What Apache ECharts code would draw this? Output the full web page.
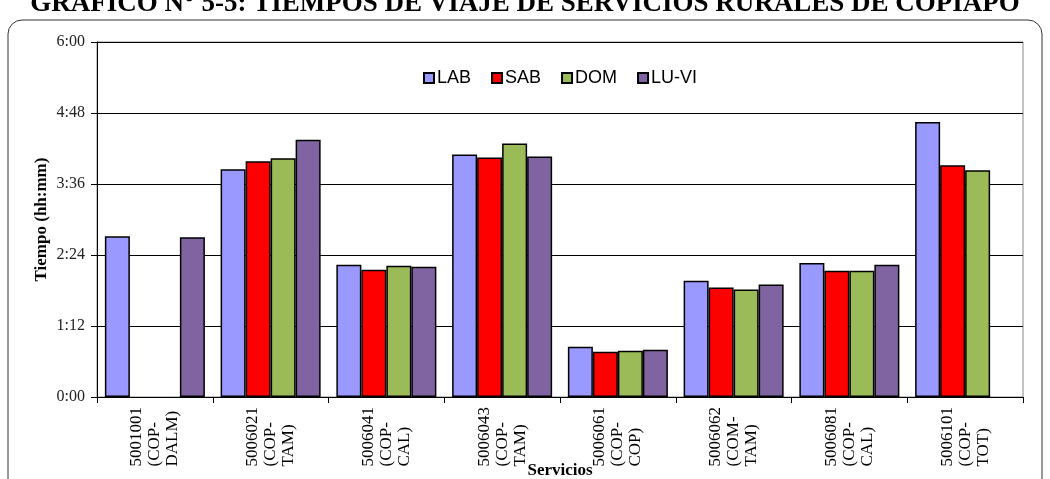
<!DOCTYPE html>
<html>
<head>
<meta charset="utf-8">
<script src="https://cdn.jsdelivr.net/npm/echarts@6/dist/echarts.min.js"></script>
<style>
  html, body { margin: 0; padding: 0; background: #fff; }
  #main { width: 1050px; height: 479px; }
</style>
</head>
<body>
<div id="main"></div>
<script>
// services (category axis), three lines each
var servicios = [
    '5001001\n(COP-\nDALM)',
    '5006021\n(COP-\nTAM)',
    '5006041\n(COP-\nCAL)',
    '5006043\n(COP-\nTAM)',
    '5006061\n(COP-\nCOP)',
    '5006062\n(COM-\nTAM)',
    '5006081\n(COP-\nCAL)',
    '5006101\n(COP-\nTOT)'
];
// travel times in minutes
var lab  = [163, 231, 134, 246, 51, 118, 136, 279];
var sab  = [null, 239, 129, 243, 46, 111, 128, 235];
var dom  = [null, 242, 133, 257, 47, 109, 128, 230];
var luvi = [162, 261, 132, 244, 48, 114, 134, null];

var seriesNames = ['LAB', 'SAB', 'DOM', 'LU-VI'];
var seriesColors = ['#9999FF', '#FF0000', '#9BBB59', '#8064A2'];
var seriesData = [lab, sab, dom, luvi];

function hhmm(v) {
    var h = Math.floor(v / 60);
    var m = v % 60;
    return h + ':' + (m < 10 ? '0' + m : m);
}

var chart = echarts.init(document.getElementById('main'));
var option = {
    animation: false,
    title: {
        text: 'GRAFICO N° 5-5: TIEMPOS DE VIAJE DE SERVICIOS RURALES DE COPIAPO',
        left: 'center',
        top: -14,
        textStyle: {
            fontFamily: 'Liberation Serif',
            fontWeight: 'bold',
            fontSize: 27,
            color: '#000'
        }
    },
    graphic: [{
        type: 'rect',
        shape: { x: 8, y: 20, width: 1034, height: 480, r: 14 },
        style: { fill: 'none', stroke: '#333', lineWidth: 1 },
        z: -1
    }],
    legend: {
        data: seriesNames,
        top: 64,
        left: 418,
        icon: 'rect',
        itemWidth: 10,
        itemHeight: 10,
        itemGap: 20,
        textStyle: {
            fontFamily: 'Liberation Sans',
            fontSize: 18,
            color: '#000',
            padding: [0, 0, 0, -2]
        }
    },
    grid: {
        left: 97,
        right: 27,
        top: 42,
        bottom: 82,
        outerBoundsMode: 'none',
        show: true,
        borderColor: '#888',
        borderWidth: 1
    },
    xAxis: {
        type: 'category',
        data: servicios,
        name: 'Servicios',
        nameLocation: 'middle',
        nameGap: 65,
        nameMoveOverlap: false,
        nameTextStyle: {
            fontFamily: 'Liberation Serif',
            fontWeight: 'bold',
            fontSize: 17,
            color: '#000'
        },
        axisLine: { lineStyle: { color: '#000', width: 1 } },
        axisTick: { show: true, length: 6, lineStyle: { color: '#000' } },
        axisLabel: {
            rotate: 90,
            margin: 10,
            interval: 0,
            formatter: function (v) {
                return v.split('\n').map(function (s) { return '{a|' + s + '}'; }).join('\n');
            },
            rich: {
                a: {
                    align: 'left',
                    fontFamily: 'Liberation Serif',
                    fontSize: 17,
                    lineHeight: 18,
                    color: '#000'
                }
            }
        }
    },
    yAxis: {
        type: 'value',
        min: 0,
        max: 360,
        interval: 72,
        name: 'Tiempo (hh:mm)',
        nameLocation: 'middle',
        nameGap: 47,
        nameMoveOverlap: false,
        nameTextStyle: {
            fontFamily: 'Liberation Serif',
            fontWeight: 'bold',
            fontSize: 17,
            color: '#000'
        },
        axisLine: { show: true, lineStyle: { color: '#000', width: 1 } },
        axisTick: { show: true, length: 6, lineStyle: { color: '#000' } },
        axisLabel: {
            formatter: hhmm,
            margin: 12,
            fontFamily: 'Liberation Serif',
            fontSize: 16,
            color: '#222'
        },
        splitLine: { show: true, lineStyle: { color: '#000', width: 1 } }
    },
    series: seriesNames.map(function (name, i) {
        return {
            name: name,
            type: 'bar',
            data: seriesData[i],
            barGap: 0,
            barCategoryGap: '13.6%',
            itemStyle: {
                color: seriesColors[i],
                borderColor: '#000',
                borderWidth: 1.5
            }
        };
    })
};
chart.setOption(option);
window.addEventListener('resize', function () {
    chart.resize();
});
</script>
</body>
</html>
